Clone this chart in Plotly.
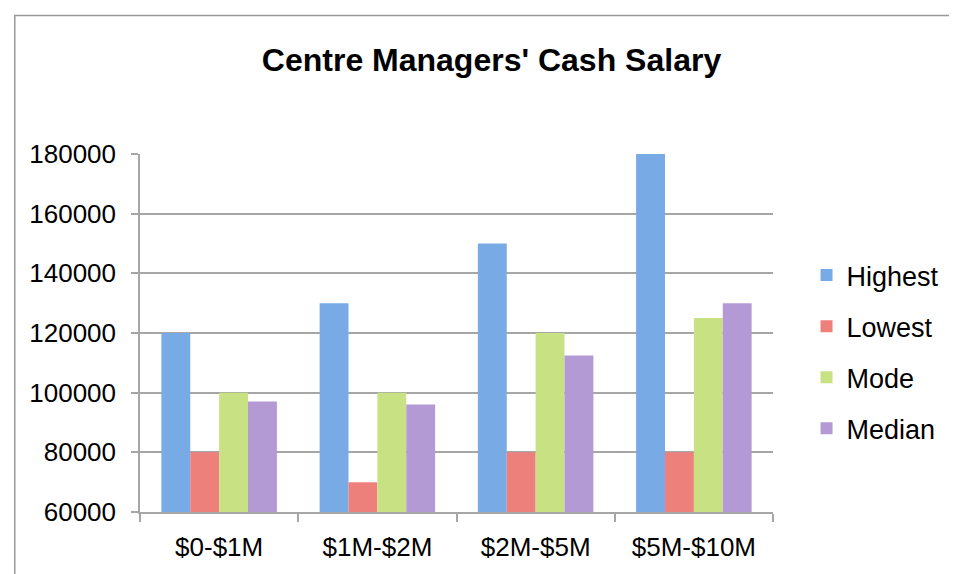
import plotly.graph_objects as go

categories = ["$0-$1M", "$1M-$2M", "$2M-$5M", "$5M-$10M"]
highest = [120000, 130000, 150000, 180000]
lowest = [80000, 70000, 80000, 80000]
mode = [100000, 100000, 120000, 125000]
median = [97000, 96000, 112500, 130000]
y_ticks = [60000, 80000, 100000, 120000, 140000, 160000, 180000]
y_tick_labels = ["60000", "80000", "100000", "120000", "140000", "160000", "180000"]

series = [
    ("Highest", highest, "#78aae6"),
    ("Lowest", lowest, "#ee807c"),
    ("Mode", mode, "#c8e283"),
    ("Median", median, "#b39ad4"),
]

fig = go.Figure()
for i, (name, vals, col) in enumerate(series):
    fig.add_trace(go.Bar(
        x=categories, y=vals, name=name,
        marker=dict(color=col, line=dict(width=0)),
        legendgroup=name,
    ))

OFF = 8
W, H = 957 - OFF, 574 - OFF
L, T = 140 - OFF, 154 - OFF
R = W - (782 - OFF)
B = H - (521 - OFF)
pw, ph = W - L - R, H - T - B

def px_x(p):
    return (p - OFF - L) / pw

def px_y(p):
    return (H - B - (p - OFF)) / ph

font = "Liberation Sans, Arial, sans-serif"
fig.update_layout(
    width=W, height=H,
    margin=dict(l=L, r=R, t=T, b=B, pad=0),
    paper_bgcolor="white", plot_bgcolor="white",
    barmode="group", bargap=0.27, bargroupgap=0,
    font=dict(family=font, size=26, color="black"),
    title=dict(text="<b>Centre Managers' Cash Salary</b>", x=(491.5 - OFF) / W, xanchor="center",
               y=1 - (60 - OFF) / H, yanchor="middle", font=dict(size=32, family=font)),
    legend=dict(x=px_x(816), xanchor="left", y=px_y(357), yanchor="middle",
                font=dict(size=27), tracegroupgap=13, itemwidth=30,
                bgcolor="rgba(0,0,0,0)"),
    showlegend=True,
    xaxis=dict(showline=True, linecolor="#a6a6a6", linewidth=1.5,
               ticks="outside", ticklen=8, tickcolor="#a6a6a6", tickwidth=1.5,
               tickson="boundaries", showgrid=False, tickfont=dict(size=26),
               ticklabelstandoff=11),
    yaxis=dict(range=[60000, 180000], tickvals=y_ticks, ticktext=y_tick_labels,
               showline=True,
               linecolor="#a6a6a6", linewidth=1.5, ticks="outside", ticklen=7,
               tickcolor="#a6a6a6", tickwidth=1.5, showgrid=True,
               gridcolor="#a6a6a6", gridwidth=1.5, zeroline=False,
               tickfont=dict(size=26), ticklabelstandoff=10),
    shapes=[dict(type="rect", xref="paper", yref="paper",
                 x0=px_x(13), x1=px_x(1000), y0=px_y(620), y1=px_y(12),
                 line=dict(color="#999999", width=1.5), fillcolor="rgba(0,0,0,0)",
                 layer="below")],
)

fig.write_html("out.html")
